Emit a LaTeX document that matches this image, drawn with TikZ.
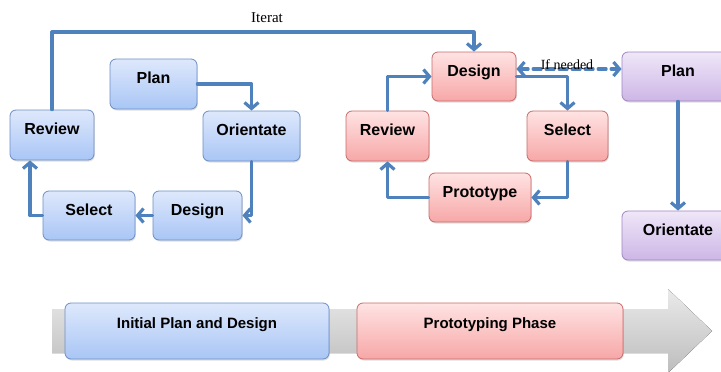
\documentclass[tikz,border=0pt]{standalone}
\usepackage{fontspec}
\setmainfont{Liberation Serif}
\setsansfont{Liberation Sans}
\usetikzlibrary{arrows.meta,shadows}
\definecolor{arrblue}{HTML}{4F81BD}
\definecolor{bluetop}{HTML}{DEE8FC}
\definecolor{bluebot}{HTML}{A9C6F5}
\definecolor{blueline}{HTML}{6C8EC6}
\definecolor{redtop}{HTML}{FFE3E3}
\definecolor{redbot}{HTML}{F7A7A7}
\definecolor{redline}{HTML}{C86B6B}
\definecolor{purptop}{HTML}{EFE7F8}
\definecolor{purpbot}{HTML}{CDB6E6}
\definecolor{purpline}{HTML}{9E86C2}
\definecolor{greytop}{HTML}{EAEAEA}
\definecolor{greybot}{HTML}{BDBDBD}

\begin{document}
\begin{tikzpicture}[x=1pt,y=-1pt,line cap=round,line join=round,>={Straight Barb[length=6pt,width=14pt]},
  box/.style={rounded corners=6pt,line width=0.8pt,minimum height=49pt,inner sep=0pt,text height=11pt,text depth=12pt,
    font=\fontsize{16}{19}\selectfont\sffamily\bfseries,drop shadow={opacity=0.25,shadow xshift=0.8pt,shadow yshift=-1.5pt}},
  bluebox/.style={box,draw=blueline,top color=bluetop,bottom color=bluebot},
  redbox/.style={box,draw=redline,top color=redtop,bottom color=redbot},
  purpbox/.style={box,draw=purpline,top color=purptop,bottom color=purpbot},
  flow/.style={arrblue,line width=3.2pt,->},
  note/.style={font=\fontsize{15}{17}\selectfont,inner sep=0pt}]
      \useasboundingbox (0,0) rectangle (721,372);
      \clip (0,0) rectangle (721,372);
      % phase arrow
      \fill [top color=greytop,bottom color=greybot] (52,309) -- (668,309) -- (668,289) -- (712,331) -- (668,373) -- (668,353) -- (52,353) -- cycle;
      \node [bluebox,minimum width=264pt,minimum height=56pt,text depth=16pt,font=\fontsize{15}{18}\selectfont\sffamily\bfseries] (initphase) at (197,331) {Initial Plan and Design};
      \node [redbox,minimum width=266pt,minimum height=56pt,text depth=16pt,font=\fontsize{15}{18}\selectfont\sffamily\bfseries] (protophase) at (490,331) {Prototyping Phase};
      % initial cycle
      \node [bluebox,minimum width=87pt,minimum height=50pt] (lplan) at (153.5,84) {Plan};
      \node [bluebox,minimum width=97pt,minimum height=50pt] (lorient) at (251.5,136) {Orientate};
      \node [bluebox,minimum width=84pt,minimum height=50pt] (lreview) at (52,135) {Review};
      \node [bluebox,minimum width=92pt] (lselect) at (89,215.5) {Select};
      \node [bluebox,minimum width=89pt] (ldesign) at (197.5,215.5) {Design};
      % prototyping cycle
      \node [redbox,minimum width=84pt] (rdesign) at (474,76.5) {Design};
      \node [redbox,minimum width=83pt,minimum height=50pt] (rreview) at (387.5,136) {Review};
      \node [redbox,minimum width=81pt,minimum height=50pt] (rselect) at (567.5,136) {Select};
      \node [redbox,minimum width=102pt] (rproto) at (480,197.5) {Prototype};
      \node [purpbox,minimum width=112pt] (pplan) at (678,76.5) {Plan};
      \node [purpbox,minimum width=112pt] (porient) at (678,235.5) {Orientate};
      \coordinate (itertop) at (0,32);
      \draw [flow] (lplan.east) -| (lorient.north);
      \draw [flow] (lorient.south) |- (ldesign.east);
      \draw [flow] (ldesign.west) -- (lselect.east);
      \draw [flow] (lselect.west) -| ([xshift=-22pt]lreview.south);
      \draw [flow] (lreview.north) -- (lreview.north |- itertop) -| (rdesign.north);
      \draw [flow] (rdesign.east) -| (rselect.north);
      \draw [flow] (rselect.south) |- (rproto.east);
      \draw [flow] (rproto.west) -| (rreview.south);
      \draw [flow] (rreview.north) |- (rdesign.west);
      \draw [flow,<->,dash pattern=on 8pt off 5pt] ([yshift=7.5pt]rdesign.east) -- ([yshift=7.5pt]pplan.west);
      \draw [flow] (pplan.south) -- (porient.north);
      \node [note] (iterlbl) at (267,18) {Iterat};
      \node [note,font=\fontsize{14}{16}\selectfont] (neededlbl) at (567,65) {If needed};
\end{tikzpicture}
\end{document}
